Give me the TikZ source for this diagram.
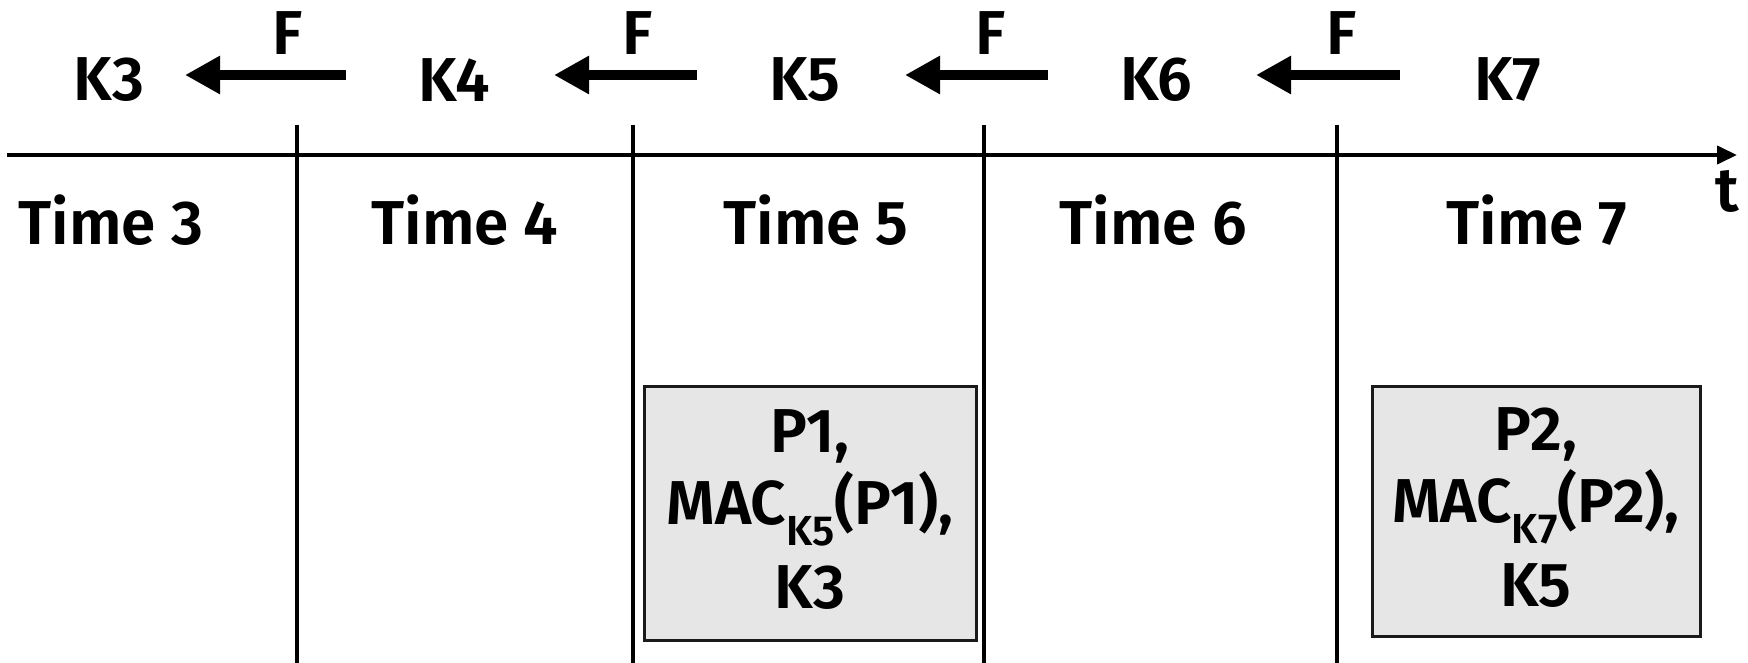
\documentclass[tikz,border=0pt]{standalone}
\usepackage{fontspec}
\setmainfont{Fira Sans}[BoldFont={Fira Sans SemiBold}]
\usetikzlibrary{arrows.meta}
\definecolor{boxfill}{HTML}{E6E6E6}
\definecolor{boxline}{HTML}{1A1A1A}
\tikzset{
  lbl/.style={inner sep=0pt, font=\fontsize{62}{62}\selectfont\bfseries},
  keyarrow/.style={line width=10pt, -{Triangle[length=35pt,width=36pt]}},
  axisline/.style={line width=4pt, -{Triangle[length=20pt,width=18pt]}},
  slotline/.style={line width=4pt},
  packet/.style={draw=boxline, fill=boxfill, line width=3pt, inner sep=0pt,
    align=center, font=\fontsize{62}{72}\selectfont\bfseries},
}
\newcommand{\subkey}[1]{\raisebox{-21pt}{\fontsize{42}{42}\selectfont #1}}
\begin{document}
\begin{tikzpicture}[x=1pt,y=-1pt]
\useasboundingbox (0,0) rectangle (1748,663);
% time axis
\coordinate (ax0) at (7,155);
\coordinate (ax1) at (1737,155);
\draw[axisline] (ax0) -- (ax1);
\node[lbl] (t) at (1727,191) {t};
% interval boundaries
\foreach \name/\x in {b3/296.5,b4/633,b5/984,b6/1336.5} {
  \coordinate (\name top) at (\x,125);
  \coordinate (\name bot) at (\x,663);
  \draw[slotline] (\name top) -- (\name bot);
}
% keys of the one-way chain
\node[lbl] (K3) at (109,80) {K3};
\node[lbl] (K4) at (454,80) {K4};
\node[lbl] (K5) at (805,80) {K5};
\node[lbl] (K6) at (1156,80) {K6};
\node[lbl] (K7) at (1508,80) {K7};
% F labels
\node[lbl] (F3) at (288,33) {F};
\node[lbl] (F4) at (638,33) {F};
\node[lbl] (F5) at (991,33) {F};
\node[lbl] (F6) at (1342,33) {F};
% F arrows
\draw[keyarrow, shorten <=108pt, shorten >=76pt] ([yshift=5pt]K4.center) -- ([yshift=5pt]K3.center);
\draw[keyarrow, shorten <=108pt, shorten >=100pt] ([yshift=5pt]K5.center) -- ([yshift=5pt]K4.center);
\draw[keyarrow, shorten <=108pt, shorten >=100pt] ([yshift=5pt]K6.center) -- ([yshift=5pt]K5.center);
\draw[keyarrow, shorten <=108pt, shorten >=100pt] ([yshift=5pt]K7.center) -- ([yshift=5pt]K6.center);
% interval labels
\node[lbl] (T3) at (111,220) {Time 3};
\node[lbl] (T4) at (465,220) {Time 4};
\node[lbl] (T5) at (816,220) {Time 5};
\node[lbl] (T6) at (1153,220) {Time 6};
\node[lbl] (T7) at (1537,220) {Time 7};
% packets
\node[packet, minimum width=332pt, minimum height=254pt] (P1) at (810,513) {};
\node[packet, draw=none, fill=none] (P1txt) at (810,510)
  {P1,\\MAC\subkey{K5}(P1),\\[12pt]K3};
\node[packet, minimum width=328pt, minimum height=250pt] (P2) at (1536,511) {};
\node[packet, draw=none, fill=none] (P2txt) at (1536,508)
  {P2,\\MAC\subkey{K7}(P2),\\[12pt]K5};
\end{tikzpicture}
\end{document}
